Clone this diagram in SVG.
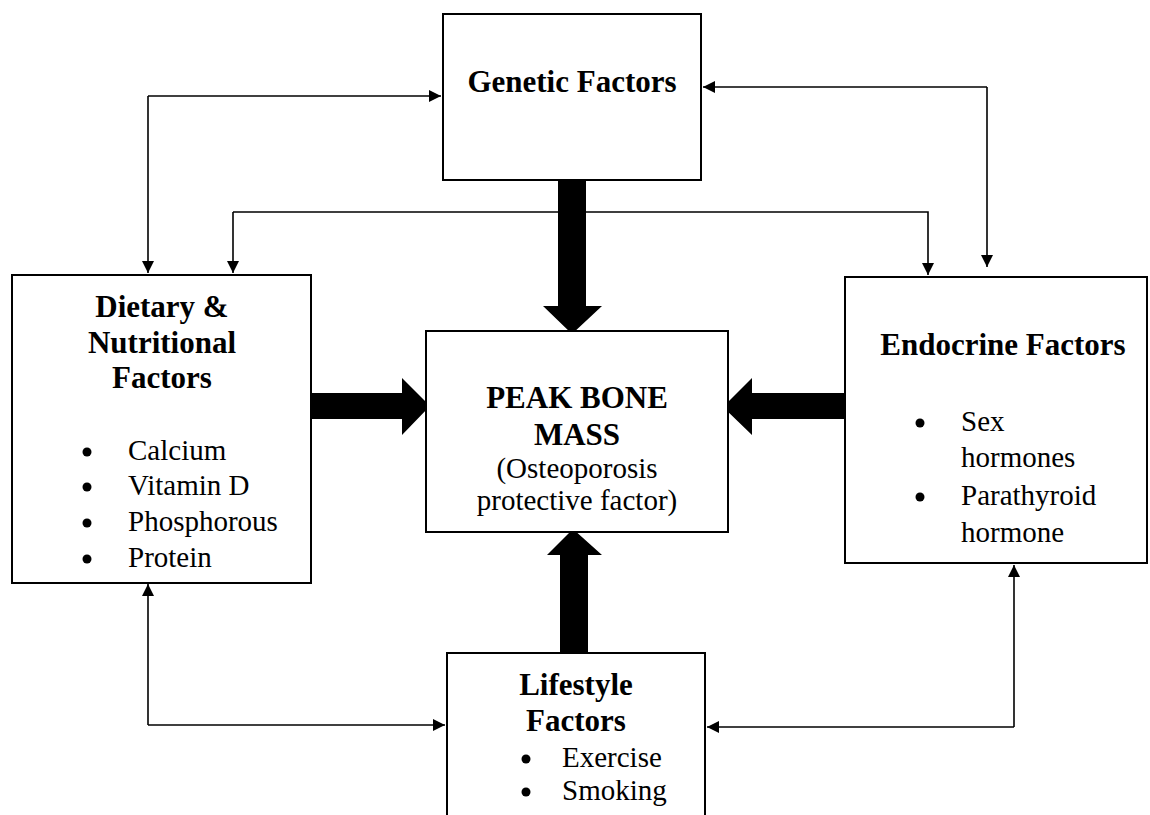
<svg xmlns="http://www.w3.org/2000/svg" width="1150" height="815" viewBox="0 0 1150 815">
<style>
.box{fill:#fff;stroke:#000;stroke-width:2}
.ln{fill:none;stroke:#000;stroke-width:1.6}
.big{fill:#000}
.h{font-family:"Liberation Serif","Times New Roman",serif;font-weight:bold;font-size:31px;fill:#000;text-anchor:middle}
.t{font-family:"Liberation Serif","Times New Roman",serif;font-size:29px;fill:#000}
.c{text-anchor:middle}
</style>
<defs>
<marker id="ah" viewBox="0 0 10 10" refX="10" refY="5" markerWidth="14" markerHeight="12" markerUnits="userSpaceOnUse" orient="auto">
<path d="M0,0 L10,5 L0,10 Z" fill="#000"/>
</marker>
</defs>
<rect width="1150" height="815" fill="#fff"/>
<g id="connectors">
<path class="ln" d="M148,96 L441,96" marker-end="url(#ah)"/>
<path class="ln" d="M148,96 L148,273" marker-end="url(#ah)"/>
<path class="ln" d="M233,212 L233,273" marker-end="url(#ah)"/>
<path class="ln" d="M233,212 L928,212 L928,275" marker-end="url(#ah)"/>
<path class="ln" d="M987,87 L703,87" marker-end="url(#ah)"/>
<path class="ln" d="M987,87 L987,267" marker-end="url(#ah)"/>
<path class="ln" d="M148,725 L148,584" marker-end="url(#ah)"/>
<path class="ln" d="M148,725 L445,725" marker-end="url(#ah)"/>
<path class="ln" d="M1014,727 L1014,565" marker-end="url(#ah)"/>
<path class="ln" d="M1014,727 L707,727" marker-end="url(#ah)"/>
<path class="big" d="M558,180 L586,180 L586,306 L602,306 L572,334 L543,306 L558,306 Z"/>
<path class="big" d="M308,393 L402,393 L402,378 L430,406 L402,435 L402,419 L308,419 Z"/>
<path class="big" d="M846,393 L752,393 L752,378 L723,407 L752,435 L752,419 L846,419 Z"/>
<path class="big" d="M560,652 L560,555 L547,555 L573,529 L602,555 L588,555 L588,652 Z"/>
</g>
<g id="genetic">
<rect class="box" x="443" y="14" width="258" height="166"/>
<text class="h" x="572" y="92">Genetic Factors</text>
</g>
<g id="dietary">
<rect class="box" x="12" y="275" width="299" height="308"/>
<text class="h" x="162" y="317">Dietary &amp;</text>
<text class="h" x="162" y="353">Nutritional</text>
<text class="h" x="162" y="388">Factors</text>
<circle cx="87" cy="452" r="4.5"/>
<circle cx="87" cy="487" r="4.5"/>
<circle cx="87" cy="523" r="4.5"/>
<circle cx="87" cy="559" r="4.5"/>
<text class="t" x="128" y="460">Calcium</text>
<text class="t" x="128" y="495">Vitamin D</text>
<text class="t" x="128" y="531">Phosphorous</text>
<text class="t" x="128" y="567">Protein</text>
</g>
<g id="peak">
<rect class="box" x="426" y="331" width="302" height="201"/>
<text class="h" x="577" y="408">PEAK BONE</text>
<text class="h" x="577" y="445">MASS</text>
<text class="t c" x="577" y="478">(Osteoporosis</text>
<text class="t c" x="577" y="510">protective factor)</text>
</g>
<g id="endocrine">
<rect class="box" x="845" y="277" width="302" height="286"/>
<text class="h" x="1003" y="355">Endocrine Factors</text>
<circle cx="920" cy="423" r="4.5"/>
<circle cx="920" cy="497" r="4.5"/>
<text class="t" x="961" y="431">Sex</text>
<text class="t" x="961" y="467">hormones</text>
<text class="t" x="961" y="505">Parathyroid</text>
<text class="t" x="961" y="542">hormone</text>
</g>
<g id="lifestyle">
<rect class="box" x="447" y="653" width="258" height="180"/>
<text class="h" x="576" y="695">Lifestyle</text>
<text class="h" x="576" y="731">Factors</text>
<circle cx="526" cy="759" r="4.5"/>
<circle cx="526" cy="792" r="4.5"/>
<text class="t" x="562" y="767">Exercise</text>
<text class="t" x="562" y="800">Smoking</text>
</g>
</svg>
